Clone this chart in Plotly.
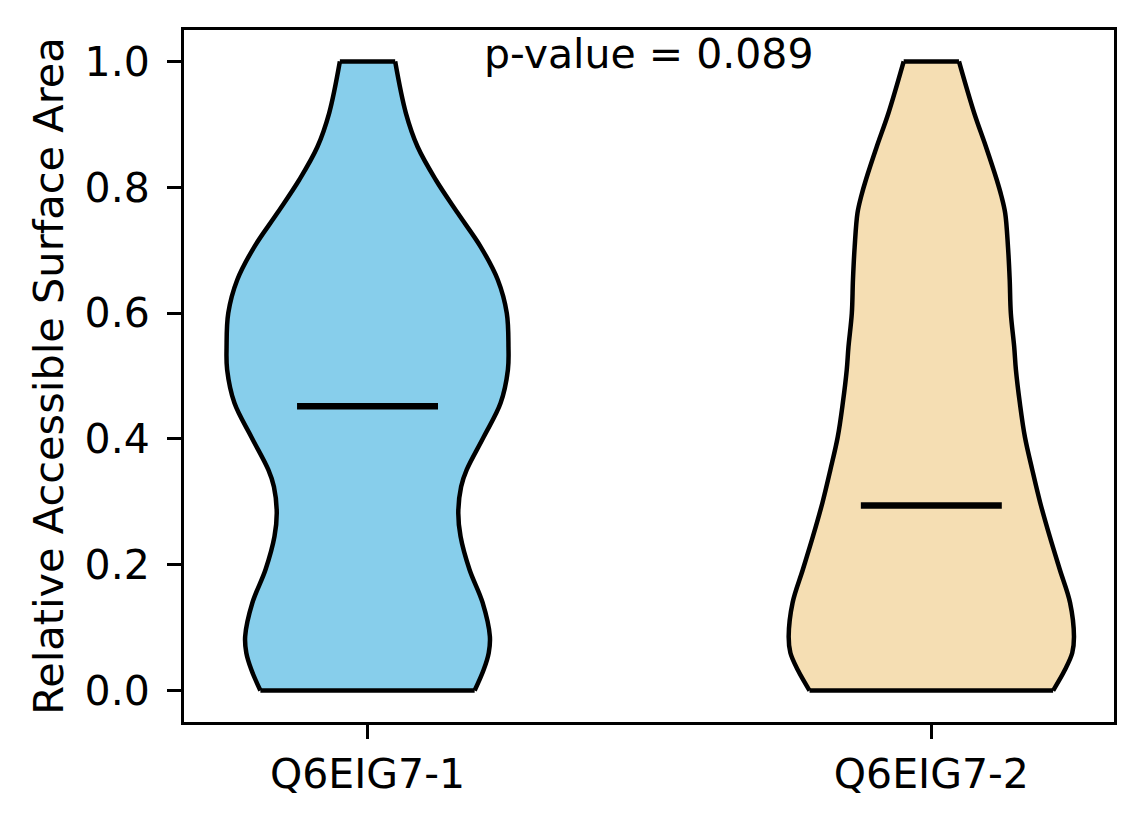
import plotly.graph_objects as go

# group labels and positions
groups = ["Q6EIG7-1", "Q6EIG7-2"]
positions = [1, 2]
colors = ["#87CEEB", "#F5DEB3"]

# violin outlines: y level and half width (x units)
ys_1 = [0.0, 0.033, 0.060, 0.086, 0.140, 0.192, 0.245, 0.283, 0.324, 0.351, 0.403,
        0.457, 0.510, 0.546, 0.600, 0.653, 0.705, 0.759, 0.812, 0.864, 0.918, 1.0]
hw_1 = [0.190, 0.206, 0.215, 0.217, 0.204, 0.181, 0.165, 0.161, 0.166, 0.176, 0.206,
        0.236, 0.249, 0.250, 0.247, 0.231, 0.201, 0.160, 0.121, 0.089, 0.068, 0.049]

ys_2 = [0.0, 0.033, 0.060, 0.086, 0.140, 0.192, 0.245, 0.299, 0.351, 0.403, 0.457,
        0.510, 0.546, 0.600, 0.653, 0.705, 0.759, 0.787, 0.812, 0.864, 0.918, 1.0]
hw_2 = [0.216, 0.237, 0.250, 0.253, 0.246, 0.228, 0.210, 0.193, 0.179, 0.166, 0.157,
        0.150, 0.147, 0.141, 0.139, 0.136, 0.131, 0.124, 0.116, 0.097, 0.076, 0.049]

medians = [0.452, 0.294]
median_halfwidth = 0.125

p_value_text = "p-value = 0.089"

fig = go.Figure()

profiles = [(ys_1, hw_1), (ys_2, hw_2)]
for pos, (ys, hw), col in zip(positions, profiles, colors):
    left_x = [pos - w for w in hw]
    right_x = [pos + w for w in hw]

    # body fill (plain polygon, the outline drawn on top hides its edges)
    fig.add_trace(go.Scatter(
        x=left_x + right_x[::-1], y=ys + ys[::-1], mode="lines",
        fill="toself", fillcolor=col, line=dict(width=0),
        showlegend=False, hoverinfo="skip",
    ))

    # smooth side outlines
    side_line = dict(color="black", width=4.5, shape="spline", smoothing=1.0)
    fig.add_trace(go.Scatter(x=left_x, y=ys, mode="lines", line=side_line,
                             showlegend=False, hoverinfo="skip"))
    fig.add_trace(go.Scatter(x=right_x, y=ys, mode="lines", line=side_line,
                             showlegend=False, hoverinfo="skip"))

    # flat ends
    fig.add_trace(go.Scatter(
        x=[left_x[0], right_x[0], None, left_x[-1], right_x[-1]],
        y=[ys[0], ys[0], None, ys[-1], ys[-1]],
        mode="lines", line=dict(color="black", width=4.5),
        showlegend=False, hoverinfo="skip",
    ))

for pos, med in zip(positions, medians):
    fig.add_trace(go.Scatter(
        x=[pos - median_halfwidth, pos + median_halfwidth], y=[med, med],
        mode="lines", line=dict(color="black", width=6.5),
        showlegend=False, hoverinfo="skip",
    ))

fig.add_annotation(
    x=1.5, y=1.012, xref="x", yref="y", text=p_value_text, showarrow=False,
    xanchor="center", yanchor="middle", font=dict(size=41, color="black"),
)

axis_common = dict(
    showline=True, linecolor="black", linewidth=3, mirror=True,
    ticks="outside", ticklen=14, tickwidth=3, tickcolor="black",
    showgrid=False, zeroline=False,
    tickfont=dict(size=41, color="black"),
)

# page body has an 8px margin, so the margins are shifted by that
fig.update_layout(
    width=1144, height=824,
    margin=dict(l=176, r=38, t=22, b=110),
    plot_bgcolor="white", paper_bgcolor="white",
    font=dict(family="DejaVu Sans", size=41, color="black"),
    xaxis=dict(range=[0.6745, 2.324], tickmode="array", tickvals=positions,
               ticktext=groups, ticklabelstandoff=0, **axis_common),
    yaxis=dict(range=[-0.05, 1.05], tickmode="array",
               tickvals=[0.0, 0.2, 0.4, 0.6, 0.8, 1.0],
               ticktext=["0.0", "0.2", "0.4", "0.6", "0.8", "1.0"],
               ticklabelstandoff=9,
               title=dict(text="Relative Accessible Surface Area",
                          font=dict(size=41.5), standoff=9),
               **axis_common),
)

fig.write_html("out.html")
